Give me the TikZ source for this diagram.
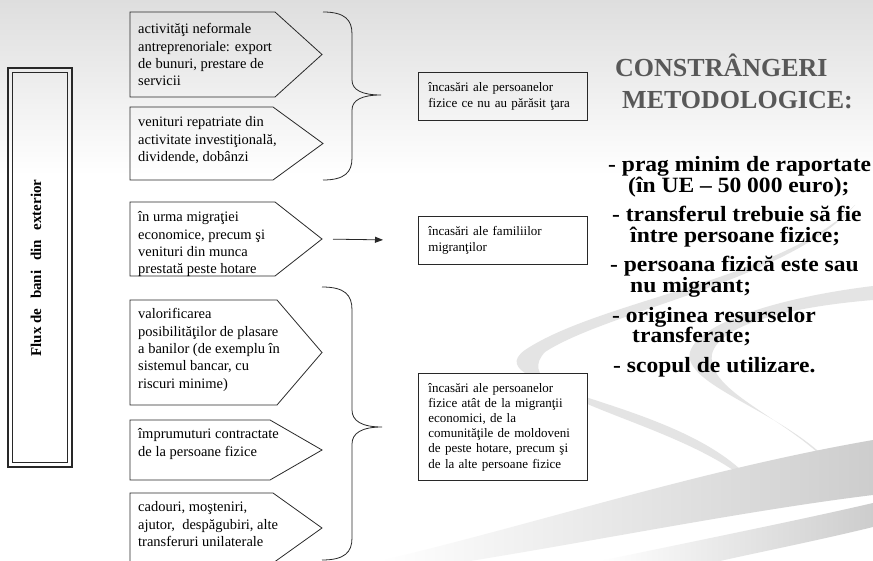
\documentclass[tikz,border=0pt]{standalone}
\usepackage{fontspec}
\setmainfont{Liberation Serif}
\newfontfamily\itemfont[FakeStretch=1.08]{Liberation Serif}
\usetikzlibrary{arrows.meta}
\definecolor{titlegray}{RGB}{88,88,88}
\definecolor{bgtop}{RGB}{222,222,222}
\definecolor{swooshgray}{RGB}{228,228,228}
\definecolor{swooshdark}{RGB}{205,205,205}
\definecolor{linegray}{RGB}{40,40,40}
\begin{document}
\begin{tikzpicture}[x=1pt,y=-1pt,
  pentbox/.style={draw=linegray, line width=0.8pt},
  pentext/.style={anchor=north west, inner sep=0pt, align=left, font=\fontsize{14.5}{17.3}\selectfont},
  rbox/.style={draw=linegray, line width=0.8pt, anchor=north west, text width=149pt, inner xsep=10pt, inner ysep=0pt, align=left, font=\fontsize{13}{15.2}\selectfont},
  bracestyle/.style={draw=linegray, line width=0.8pt},
  flowarrow/.style={draw=linegray, line width=0.8pt, -{Triangle[length=8pt,width=6pt]}},
  titletext/.style={anchor=base west, inner sep=0pt, text=titlegray, font=\fontsize{26}{30}\selectfont\bfseries},
  itemtext/.style={anchor=base west, inner sep=0pt, font=\itemfont\fontsize{21.8}{24}\selectfont\bfseries},
  fluxtext/.style={rotate=90, inner sep=0pt, font=\fontsize{15}{18}\selectfont\bfseries}
]
\useasboundingbox (0,0) rectangle (873,561);
% background
\fill[white] (0,0) rectangle (873,561);
\shade[top color=bgtop, bottom color=white] (0,0) rectangle (873,175);
% swooshes
\fill[swooshgray] (855,205) .. controls (780,280) and (600,300) .. (525,350) .. controls (470,390) and (700,400) .. (760,492) .. controls (690,420) and (500,400) .. (545,352) .. controls (610,310) and (790,280) .. (855,205) -- cycle;
\fill[swooshgray] (873,286) .. controls (790,296) and (700,320) .. (690,352) .. controls (680,390) and (820,420) .. (850,492) .. controls (815,425) and (705,398) .. (712,354) .. controls (720,322) and (800,306) .. (873,300) -- cycle;
\shade[left color=white, right color=swooshdark] (380,561) .. controls (550,520) and (700,470) .. (873,440) -- (873,495) .. controls (750,510) and (600,540) .. (470,561) -- cycle;
\shade[left color=white, right color=swooshdark] (600,561) .. controls (700,540) and (800,520) .. (873,503) -- (873,527) .. controls (820,540) and (760,552) .. (720,561) -- cycle;

% left framed label
\draw[line width=1.3pt, draw=linegray] (8,68) rectangle (72,467);
\draw[line width=0.6pt, draw=linegray] (12.5,72.5) rectangle (67.5,462.5);
\node[fluxtext] (flux) at (36,268) {Flux de\hspace{0.4em} bani\hspace{0.4em} din\hspace{0.4em} exterior};

% pentagons
\draw[pentbox] (130,12) -- (275,12) -- (322,54.5) coordinate (p1tip) -- (275,97) -- (130,97) -- cycle;
\node[pentext] (p1) at (138,23.5) {activităţi neformale\\antreprenoriale: export\\de bunuri, prestare de\\servicii};
\draw[pentbox] (130,107) -- (273,107) -- (323,143.5) coordinate (p2tip) -- (273,180) -- (130,180) -- cycle;
\node[pentext] (p2) at (138,116.5) {venituri repatriate din\\activitate investiţională,\\dividende, dobânzi};
\draw[pentbox] (130,202) -- (275,202) -- (322,239) coordinate (p3tip) -- (275,276) -- (130,276) -- cycle;
\node[pentext] (p3) at (138,211.5) {în urma migraţiei\\economice, precum şi\\venituri din munca\\prestată peste hotare};
\draw[pentbox] (130,300) -- (277,300) -- (322,352.5) coordinate (p4tip) -- (277,405) -- (130,405) -- cycle;
\node[pentext] (p4) at (138,308.5) {valorificarea\\posibilităţilor de plasare\\a banilor (de exemplu în\\sistemul bancar, cu\\riscuri minime)};
\draw[pentbox] (130,420) -- (270,420) -- (322,450) coordinate (p5tip) -- (270,480) -- (130,480) -- cycle;
\node[pentext] (p5) at (138,428.5) {împrumuturi contractate\\de la persoane fizice};
\draw[pentbox] (130,493) -- (273,493) -- (322,528) coordinate (p6tip) -- (273,563) -- (130,563) -- cycle;
\node[pentext] (p6) at (138,501.5) {cadouri, moşteniri,\\ajutor,\ \ despăgubiri, alte\\transferuri unilaterale};

% braces
\draw[bracestyle] (323,12) .. controls (345,12) and (352,20) .. (352,34) -- (352,80) .. controls (352,90) and (362,95) .. (381,95) .. controls (362,95) and (352,100) .. (352,110) -- (352,158) .. controls (352,172) and (345,180) .. (323,180);
\draw[bracestyle] (322,287) .. controls (345,287) and (352,295) .. (352,310) -- (352,410) .. controls (352,421) and (362,427) .. (382,427) .. controls (362,427) and (352,433) .. (352,444) -- (352,538) .. controls (352,552) and (345,560) .. (322,560);

% right boxes
\node[rbox, minimum height=48pt] (r1) at (418,72) {încasări ale persoanelor\\fizice ce nu au părăsit ţara};
\node[rbox, minimum height=48pt] (r2) at (418,216) {încasări ale familiilor\\migranţilor};
\node[rbox, minimum height=107pt, fill=white] (r3) at (418,373) {încasări ale persoanelor\\fizice atât de la migranţii\\economici, de la\\comunităţile de moldoveni\\de peste hotare, precum şi\\de la alte persoane fizice};

% arrow
\draw[flowarrow, shorten <=11pt, shorten >=35pt] (p3tip) -- (r2.west);

% title
\node[titletext] (t1) at (615,77) {CONSTRÂNGERI};
\node[titletext] (t2) at (622,109) {METODOLOGICE:};

% items
\node[itemtext] (b1a) at (608,172) {- prag minim de raportate};
\node[itemtext] (b1b) at (628,193) {(în UE – 50 000 euro);};
\node[itemtext] (b2a) at (612,222) {- transferul trebuie să fie};
\node[itemtext] (b2b) at (630,243) {între persoane fizice;};
\node[itemtext] (b3a) at (610,272) {- persoana fizică este sau};
\node[itemtext] (b3b) at (630,293) {nu migrant;};
\node[itemtext] (b4a) at (612,323) {- originea resurselor};
\node[itemtext] (b4b) at (632,343) {transferate;};
\node[itemtext] (b5) at (613,373) {- scopul de utilizare.};
\end{tikzpicture}
\end{document}
